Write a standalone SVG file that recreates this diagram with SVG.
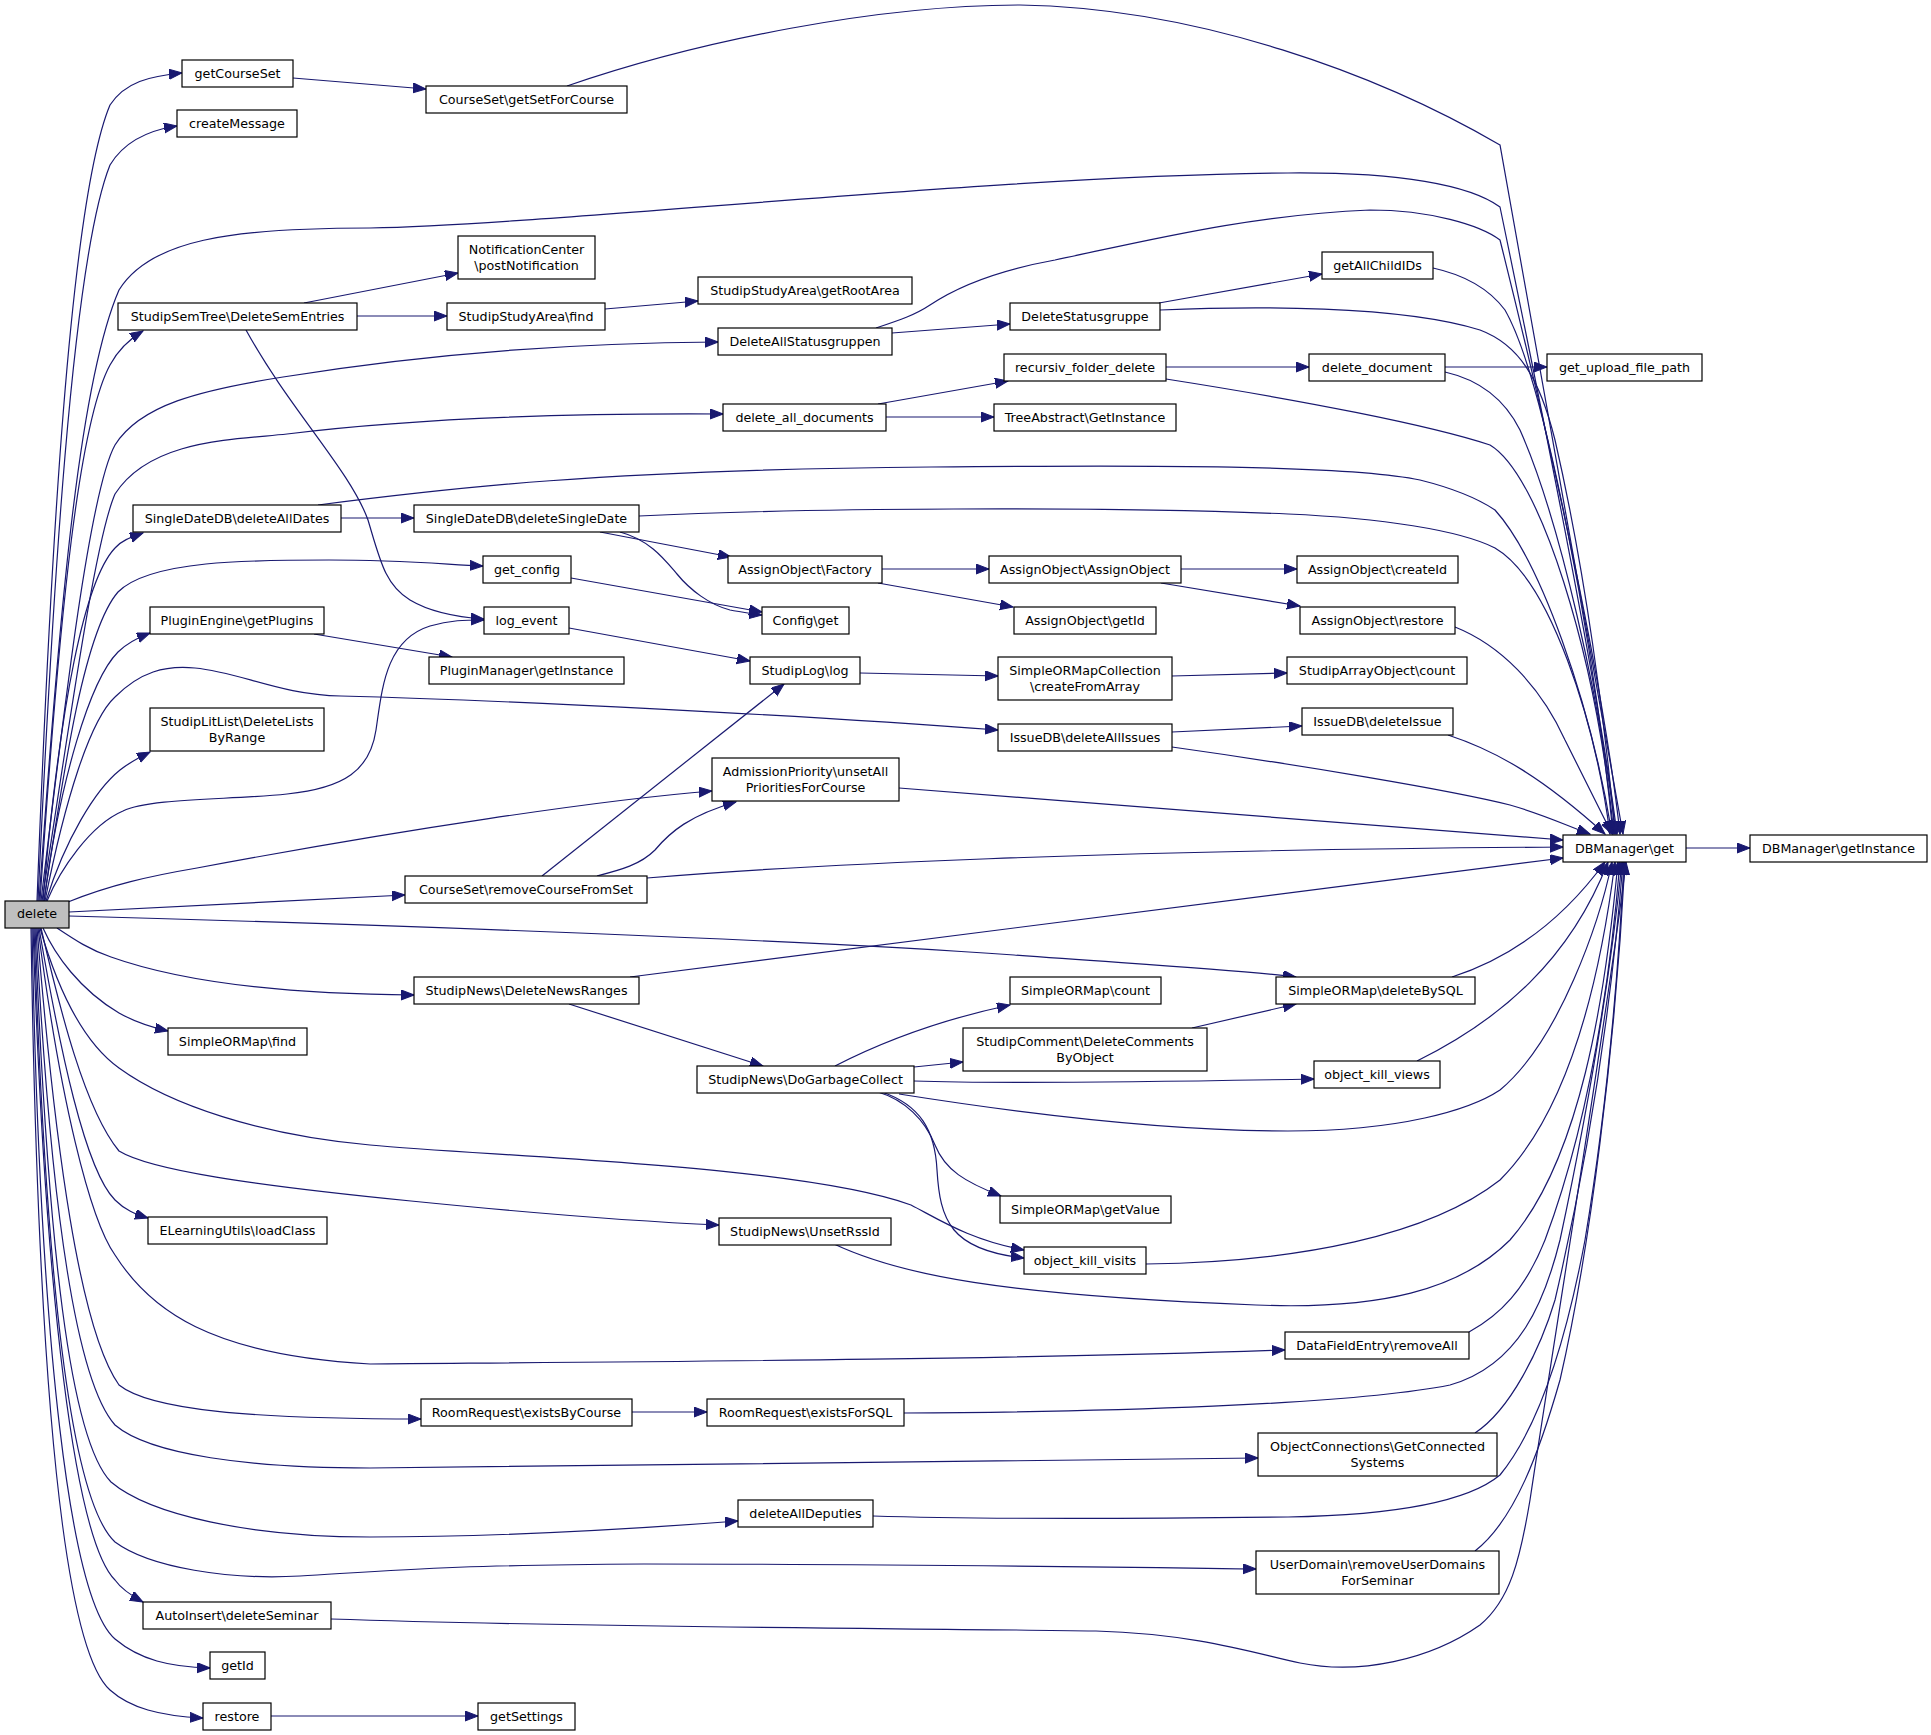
<svg xmlns="http://www.w3.org/2000/svg" width="1931" height="1735" viewBox="0 0 1931 1735">
<style>
.n rect{fill:#fff;stroke:#000;stroke-width:1.2}
.n text{font-family:"DejaVu Sans","Liberation Sans",sans-serif;font-size:12.7px;text-anchor:middle;fill:#000}
.e path{fill:none;stroke:#191970;stroke-width:1.2;marker-end:url(#a)}
</style>
<defs>
<marker id="a" markerWidth="14" markerHeight="11" refX="13" refY="5" orient="auto" markerUnits="userSpaceOnUse">
<path d="M0,0 L13,5 L0,10 z" fill="#191970" stroke="#191970" stroke-width="1"/>
</marker>
</defs>
<rect width="1931" height="1735" fill="#fff"/>
<g id="edges" class="e">
<path d="M37,901 C50,560 70,200 110,105 C125,82 150,76 182,73"/>
<path d="M38,901 C52,600 72,260 110,165 C125,140 150,130 177,126"/>
<path d="M39,901 C60,600 80,380 119,290 C150,240 230,228 370,228 C550,225 1000,175 1288,173 C1400,172 1470,185 1500,207 C1540,400 1600,700 1617,834"/>
<path d="M40,901 C60,600 80,420 110,365 C118,350 128,340 143,331"/>
<path d="M41,901 C65,700 90,490 115,445 C140,405 200,390 283,377 C400,358 550,343 718,342"/>
<path d="M42,901 C70,720 95,540 115,494 C150,440 230,440 287,434 C400,420 550,413 723,414"/>
<path d="M43,901 C60,700 85,580 115,548 C122,540 132,537 143,533"/>
<path d="M44,901 C65,760 85,630 118,592 C150,560 250,560 329,560 C400,560 440,564 483,566"/>
<path d="M44,901 C60,780 90,680 118,652 C126,644 137,638 150,633"/>
<path d="M45,901 C65,800 90,720 115,697 C140,672 165,665 195,668 C240,672 280,695 341,696 C500,700 800,715 998,730"/>
<path d="M46,901 C65,840 95,790 120,770 C130,762 140,757 150,752"/>
<path d="M47,901 C60,870 90,825 123,811 C150,798 230,800 287,794 C345,788 370,770 376,730 C382,690 385,640 430,626 C450,620 465,620 484,620"/>
<path d="M68,902 C110,885 150,876 197,868 C400,830 600,800 712,791"/>
<path d="M69,912 L405,895"/>
<path d="M69,916 C400,925 800,940 1014,955 C1150,965 1240,970 1296,977"/>
<path d="M57,928 C75,940 90,950 111,957 C170,978 260,994 414,995"/>
<path d="M43,928 C55,955 80,990 119,1013 C135,1022 150,1027 168,1031"/>
<path d="M40,928 C55,980 80,1040 119,1068 C170,1105 260,1135 370,1145 C500,1157 800,1165 911,1205 C940,1220 970,1240 1024,1250"/>
<path d="M41,928 C60,1010 85,1110 119,1151 C150,1170 250,1185 411,1201 C550,1215 650,1222 719,1225"/>
<path d="M39,928 C60,1050 85,1170 115,1200 C125,1210 135,1214 148,1218"/>
<path d="M38,928 C60,1100 90,1220 115,1255 C150,1310 210,1355 370,1364 C600,1362 1000,1360 1285,1350"/>
<path d="M37,928 C55,1150 80,1330 119,1385 C150,1410 250,1419 421,1419"/>
<path d="M36,928 C50,1200 75,1380 115,1425 C150,1455 250,1468 370,1468 C700,1465 1000,1460 1258,1458"/>
<path d="M35,928 C48,1250 70,1440 111,1482 C150,1515 250,1537 370,1537 C500,1537 620,1530 738,1521"/>
<path d="M34,928 C46,1280 70,1500 115,1542 C150,1568 230,1580 300,1576 C400,1570 450,1565 644,1564 C900,1564 1100,1567 1256,1569"/>
<path d="M33,928 C45,1300 75,1540 115,1580 C122,1590 132,1596 143,1602"/>
<path d="M32,928 C40,1350 70,1600 115,1639 C140,1660 170,1667 210,1668"/>
<path d="M31,928 C38,1400 65,1650 110,1690 C130,1708 160,1716 203,1718"/>
<path d="M271,1716 L478,1716"/>
<path d="M293,78 L426,89"/>
<path d="M567,86 C700,40 880,5 1020,5 C1200,8 1380,75 1500,145 L1623,834"/>
<path d="M304,303 L458,273"/>
<path d="M357,316 L447,316"/>
<path d="M246,330 C290,410 350,470 368,520 C380,560 385,585 410,600 C430,612 455,617 484,619"/>
<path d="M605,309 L698,301"/>
<path d="M892,333 L1010,324"/>
<path d="M876,328 C900,320 915,315 930,305 C960,285 1000,270 1055,260 C1150,240 1250,215 1370,210 C1430,210 1480,225 1500,240 C1530,360 1600,650 1620,834"/>
<path d="M1159,303 L1322,274"/>
<path d="M1160,310 C1250,306 1400,305 1480,330 C1520,345 1540,380 1555,440 C1585,570 1605,720 1615,834"/>
<path d="M1433,268 C1465,275 1490,290 1505,310 C1545,380 1595,650 1613,834"/>
<path d="M878,404 L1008,381"/>
<path d="M886,417 L994,417"/>
<path d="M1166,367 L1309,367"/>
<path d="M1166,379 C1300,400 1430,425 1490,445 C1540,475 1595,650 1614,834"/>
<path d="M1445,367 L1547,367"/>
<path d="M1445,372 C1480,380 1505,400 1520,430 C1560,520 1600,700 1616,834"/>
<path d="M341,518 L414,518"/>
<path d="M318,505 C450,488 600,470 931,467 C1150,465 1350,465 1420,480 C1460,490 1480,500 1495,510 C1540,560 1590,700 1612,834"/>
<path d="M639,516 C800,508 1100,506 1288,514 C1380,518 1460,530 1495,548 C1550,580 1595,720 1610,834"/>
<path d="M600,532 L731,557"/>
<path d="M620,532 C650,540 665,560 677,574 C690,590 710,605 730,610 C742,612 752,614 762,615"/>
<path d="M571,578 L762,612"/>
<path d="M569,628 L750,661"/>
<path d="M314,634 L452,657"/>
<path d="M882,569 L989,569"/>
<path d="M878,583 L1013,607"/>
<path d="M1181,569 L1297,569"/>
<path d="M1161,583 L1300,606"/>
<path d="M1455,627 C1500,645 1540,685 1565,740 C1585,780 1600,810 1612,834"/>
<path d="M860,673 L998,676"/>
<path d="M1172,676 L1287,673"/>
<path d="M1172,732 L1302,726"/>
<path d="M1172,747 C1300,765 1450,790 1510,805 C1545,815 1565,825 1590,834"/>
<path d="M1448,735 C1500,752 1545,780 1605,834"/>
<path d="M899,788 L1563,840"/>
<path d="M647,878 C800,865 1100,850 1563,847"/>
<path d="M597,876 C620,870 640,865 655,850 C670,832 690,815 736,802"/>
<path d="M542,876 L784,684"/>
<path d="M630,977 L1563,858"/>
<path d="M569,1004 L763,1066"/>
<path d="M835,1066 C870,1048 930,1022 1010,1005"/>
<path d="M914,1067 L963,1062"/>
<path d="M914,1081 C1000,1084 1150,1082 1314,1079"/>
<path d="M899,1094 C1000,1110 1150,1131 1288,1131 C1400,1131 1470,1110 1500,1090 C1560,1040 1600,920 1612,862"/>
<path d="M878,1092 C905,1100 925,1120 935,1145 C945,1170 965,1182 1001,1196"/>
<path d="M882,1092 C920,1105 935,1130 937,1170 C940,1220 950,1250 1024,1258"/>
<path d="M1192,1028 L1296,1004"/>
<path d="M1452,977 C1520,955 1570,910 1605,862"/>
<path d="M1417,1061 C1500,1020 1570,960 1608,862"/>
<path d="M1146,1264 C1300,1262 1430,1235 1500,1180 C1570,1110 1600,980 1615,862"/>
<path d="M834,1244 C900,1275 1000,1295 1256,1305 C1380,1310 1460,1290 1510,1240 C1580,1160 1605,1000 1618,862"/>
<path d="M1469,1332 C1500,1315 1525,1290 1545,1240 C1590,1120 1610,980 1620,862"/>
<path d="M632,1412 L707,1412"/>
<path d="M904,1413 C1100,1412 1350,1405 1450,1385 C1520,1365 1545,1300 1560,1240 C1590,1100 1610,980 1622,862"/>
<path d="M1475,1433 C1510,1410 1540,1350 1555,1300 C1590,1150 1612,1000 1623,862"/>
<path d="M873,1516 C1000,1520 1200,1518 1288,1517 C1400,1515 1470,1500 1500,1475 C1545,1420 1570,1320 1585,1240 C1605,1120 1617,1000 1624,862"/>
<path d="M1475,1551 C1515,1520 1540,1450 1560,1380 C1590,1250 1615,1050 1625,862"/>
<path d="M331,1619 C600,1628 900,1628 1096,1631 C1200,1634 1260,1655 1300,1663 C1360,1675 1430,1660 1480,1625 C1510,1600 1520,1560 1530,1500 C1560,1300 1610,1000 1626,862"/>
<path d="M1686,848 L1750,848"/>
</g>
<g id="n_delete" class="n"><rect x="5" y="901" width="64" height="27" style="fill:#bfbfbf"/><text x="37" y="918">delete</text></g>
<g id="n_getCourseSet" class="n"><rect x="182" y="60" width="111" height="27"/><text x="237.5" y="78">getCourseSet</text></g>
<g id="n_createMessage" class="n"><rect x="177" y="110" width="120" height="27"/><text x="237" y="128">createMessage</text></g>
<g id="n_getSetForCourse" class="n"><rect x="426" y="86" width="201" height="27"/><text x="526.5" y="104">CourseSet\getSetForCourse</text></g>
<g id="n_postNotification" class="n"><rect x="458" y="236" width="137" height="43"/><text x="526.5" y="254">NotificationCenter</text><text x="526.5" y="270">\postNotification</text></g>
<g id="n_DeleteSemEntries" class="n"><rect x="118" y="303" width="239" height="27"/><text x="237.5" y="321">StudipSemTree\DeleteSemEntries</text></g>
<g id="n_StudyAreaFind" class="n"><rect x="447" y="303" width="158" height="27"/><text x="526" y="321">StudipStudyArea\find</text></g>
<g id="n_getRootArea" class="n"><rect x="698" y="277" width="214" height="27"/><text x="805" y="295">StudipStudyArea\getRootArea</text></g>
<g id="n_DeleteAllStatusgruppen" class="n"><rect x="718" y="328" width="174" height="27"/><text x="805" y="346">DeleteAllStatusgruppen</text></g>
<g id="n_DeleteStatusgruppe" class="n"><rect x="1010" y="303" width="150" height="27"/><text x="1085" y="321">DeleteStatusgruppe</text></g>
<g id="n_getAllChildIDs" class="n"><rect x="1322" y="252" width="111" height="27"/><text x="1377.5" y="270">getAllChildIDs</text></g>
<g id="n_recursiv_folder_delete" class="n"><rect x="1004" y="354" width="162" height="27"/><text x="1085" y="372">recursiv_folder_delete</text></g>
<g id="n_delete_document" class="n"><rect x="1309" y="354" width="136" height="27"/><text x="1377" y="372">delete_document</text></g>
<g id="n_get_upload_file_path" class="n"><rect x="1547" y="354" width="155" height="27"/><text x="1624.5" y="372">get_upload_file_path</text></g>
<g id="n_delete_all_documents" class="n"><rect x="723" y="404" width="163" height="27"/><text x="804.5" y="422">delete_all_documents</text></g>
<g id="n_TreeAbstract" class="n"><rect x="994" y="404" width="182" height="27"/><text x="1085" y="422">TreeAbstract\GetInstance</text></g>
<g id="n_deleteAllDates" class="n"><rect x="133" y="505" width="208" height="27"/><text x="237" y="523">SingleDateDB\deleteAllDates</text></g>
<g id="n_deleteSingleDate" class="n"><rect x="414" y="505" width="225" height="27"/><text x="526.5" y="523">SingleDateDB\deleteSingleDate</text></g>
<g id="n_get_config" class="n"><rect x="483" y="556" width="88" height="27"/><text x="527" y="574">get_config</text></g>
<g id="n_Factory" class="n"><rect x="728" y="556" width="154" height="27"/><text x="805" y="574">AssignObject\Factory</text></g>
<g id="n_AssignObject" class="n"><rect x="989" y="556" width="192" height="27"/><text x="1085" y="574">AssignObject\AssignObject</text></g>
<g id="n_createId" class="n"><rect x="1297" y="556" width="161" height="27"/><text x="1377.5" y="574">AssignObject\createId</text></g>
<g id="n_getPlugins" class="n"><rect x="150" y="607" width="174" height="27"/><text x="237" y="625">PluginEngine\getPlugins</text></g>
<g id="n_log_event" class="n"><rect x="484" y="607" width="85" height="27"/><text x="526.5" y="625">log_event</text></g>
<g id="n_ConfigGet" class="n"><rect x="762" y="607" width="87" height="27"/><text x="805.5" y="625">Config\get</text></g>
<g id="n_AO_getId" class="n"><rect x="1014" y="607" width="142" height="27"/><text x="1085" y="625">AssignObject\getId</text></g>
<g id="n_AO_restore" class="n"><rect x="1300" y="607" width="155" height="27"/><text x="1377.5" y="625">AssignObject\restore</text></g>
<g id="n_PluginManager" class="n"><rect x="429" y="657" width="195" height="27"/><text x="526.5" y="675">PluginManager\getInstance</text></g>
<g id="n_StudipLog" class="n"><rect x="750" y="657" width="110" height="27"/><text x="805" y="675">StudipLog\log</text></g>
<g id="n_createFromArray" class="n"><rect x="998" y="657" width="174" height="43"/><text x="1085" y="675">SimpleORMapCollection</text><text x="1085" y="691">\createFromArray</text></g>
<g id="n_ArrayCount" class="n"><rect x="1287" y="657" width="180" height="27"/><text x="1377" y="675">StudipArrayObject\count</text></g>
<g id="n_LitList" class="n"><rect x="150" y="708" width="174" height="43"/><text x="237" y="726">StudipLitList\DeleteLists</text><text x="237" y="742">ByRange</text></g>
<g id="n_deleteAllIssues" class="n"><rect x="998" y="724" width="174" height="27"/><text x="1085" y="742">IssueDB\deleteAllIssues</text></g>
<g id="n_deleteIssue" class="n"><rect x="1302" y="708" width="151" height="27"/><text x="1377.5" y="726">IssueDB\deleteIssue</text></g>
<g id="n_AdmissionPriority" class="n"><rect x="712" y="758" width="187" height="43"/><text x="805.5" y="776">AdmissionPriority\unsetAll</text><text x="805.5" y="792">PrioritiesForCourse</text></g>
<g id="n_DBManagerGet" class="n"><rect x="1563" y="835" width="123" height="27"/><text x="1624.5" y="853">DBManager\get</text></g>
<g id="n_DBManagerGetInstance" class="n"><rect x="1750" y="835" width="177" height="27"/><text x="1838.5" y="853">DBManager\getInstance</text></g>
<g id="n_removeCourseFromSet" class="n"><rect x="405" y="876" width="242" height="27"/><text x="526" y="894">CourseSet\removeCourseFromSet</text></g>
<g id="n_DeleteNewsRanges" class="n"><rect x="414" y="977" width="225" height="27"/><text x="526.5" y="995">StudipNews\DeleteNewsRanges</text></g>
<g id="n_SORMcount" class="n"><rect x="1010" y="977" width="151" height="27"/><text x="1085.5" y="995">SimpleORMap\count</text></g>
<g id="n_deleteBySQL" class="n"><rect x="1276" y="977" width="199" height="27"/><text x="1375.5" y="995">SimpleORMap\deleteBySQL</text></g>
<g id="n_SORMfind" class="n"><rect x="168" y="1028" width="139" height="27"/><text x="237.5" y="1046">SimpleORMap\find</text></g>
<g id="n_DeleteComments" class="n"><rect x="963" y="1028" width="244" height="43"/><text x="1085" y="1046">StudipComment\DeleteComments</text><text x="1085" y="1062">ByObject</text></g>
<g id="n_DoGarbageCollect" class="n"><rect x="697" y="1066" width="217" height="27"/><text x="805.5" y="1084">StudipNews\DoGarbageCollect</text></g>
<g id="n_object_kill_views" class="n"><rect x="1314" y="1061" width="126" height="27"/><text x="1377" y="1079">object_kill_views</text></g>
<g id="n_getValue" class="n"><rect x="1000" y="1196" width="171" height="27"/><text x="1085.5" y="1214">SimpleORMap\getValue</text></g>
<g id="n_loadClass" class="n"><rect x="148" y="1217" width="179" height="27"/><text x="237.5" y="1235">ELearningUtils\loadClass</text></g>
<g id="n_UnsetRssId" class="n"><rect x="719" y="1218" width="172" height="27"/><text x="805" y="1236">StudipNews\UnsetRssId</text></g>
<g id="n_object_kill_visits" class="n"><rect x="1024" y="1247" width="122" height="27"/><text x="1085" y="1265">object_kill_visits</text></g>
<g id="n_removeAll" class="n"><rect x="1285" y="1332" width="184" height="27"/><text x="1377" y="1350">DataFieldEntry\removeAll</text></g>
<g id="n_existsByCourse" class="n"><rect x="421" y="1399" width="211" height="27"/><text x="526.5" y="1417">RoomRequest\existsByCourse</text></g>
<g id="n_existsForSQL" class="n"><rect x="707" y="1399" width="197" height="27"/><text x="805.5" y="1417">RoomRequest\existsForSQL</text></g>
<g id="n_GetConnectedSystems" class="n"><rect x="1258" y="1433" width="239" height="43"/><text x="1377.5" y="1451">ObjectConnections\GetConnected</text><text x="1377.5" y="1467">Systems</text></g>
<g id="n_deleteAllDeputies" class="n"><rect x="738" y="1500" width="135" height="27"/><text x="805.5" y="1518">deleteAllDeputies</text></g>
<g id="n_removeUserDomains" class="n"><rect x="1256" y="1551" width="243" height="43"/><text x="1377.5" y="1569">UserDomain\removeUserDomains</text><text x="1377.5" y="1585">ForSeminar</text></g>
<g id="n_deleteSeminar" class="n"><rect x="143" y="1602" width="188" height="27"/><text x="237" y="1620">AutoInsert\deleteSeminar</text></g>
<g id="n_getId" class="n"><rect x="210" y="1652" width="55" height="27"/><text x="237.5" y="1670">getId</text></g>
<g id="n_restore" class="n"><rect x="203" y="1703" width="68" height="27"/><text x="237" y="1721">restore</text></g>
<g id="n_getSettings" class="n"><rect x="478" y="1703" width="97" height="27"/><text x="526.5" y="1721">getSettings</text></g>
</svg>
